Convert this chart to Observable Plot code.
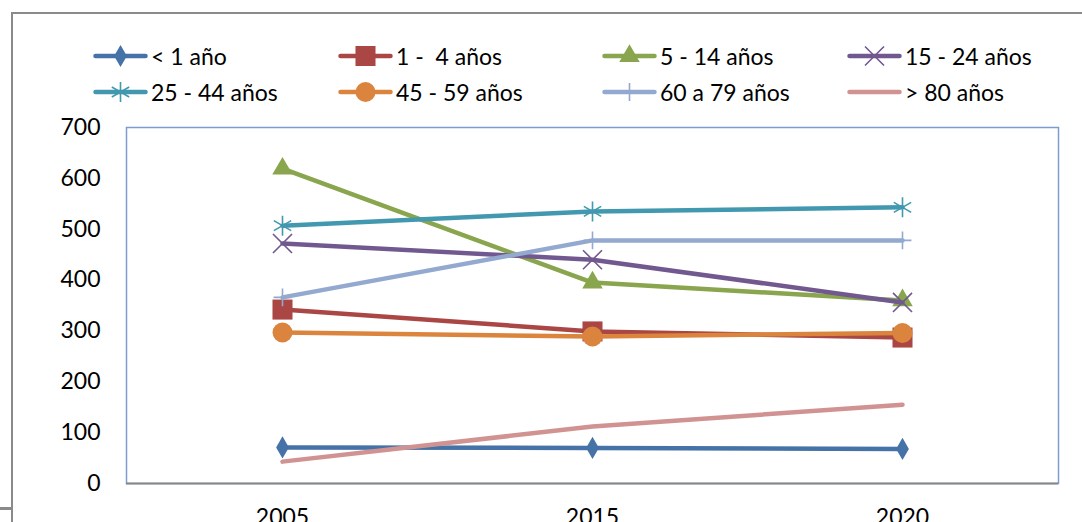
<!DOCTYPE html>
<html>
<head>
<meta charset="utf-8">
<script src="https://cdn.jsdelivr.net/npm/d3@7"></script>
<script src="https://cdn.jsdelivr.net/npm/@observablehq/plot@0.6"></script>
<style>
  html, body { margin: 0; padding: 0; background: #fff; overflow: hidden; }
  #chart { position: relative; width: 1082px; height: 522px; overflow: hidden; font-family: Lato, "Open Sans", sans-serif; }
  #legend { position: relative; height: 110px; }
  .item { position: absolute; height: 30px; display: flex; align-items: center; font-size: 23px; color: #000; white-space: pre; }
  .item svg { display: block; margin-right: 3px; overflow: visible; }
  #outline { position: absolute; left: 11px; top: 12px; right: -10px; bottom: -10px;
             border-left: 2px solid #8a8a8a; border-top: 2px solid #8a8a8a; pointer-events: none; }
  #stub { position: absolute; left: 0; top: 507px; width: 11px; height: 3px; background: #8a8a8a; }
  #plot { position: relative; }
</style>
</head>
<body>
<div id="chart">
  <div id="outline"></div>
  <div id="stub"></div>
  <div id="legend"></div>
  <div id="plot"></div>
</div>
<script>
// Population by age group, three reference years
const years = ["2005", "2015", "2020"];
const groups = ["< 1 año", "1 -  4 años", "5 - 14 años", "15 - 24 años",
                "25 - 44 años", "45 - 59 años", "60 a 79 años", "> 80 años"];

const menor1  = [71, 70, 68];
const de1a4   = [342, 299, 287];
const de5a14  = [619, 395, 360];
const de15a24 = [472, 440, 356];
const de25a44 = [507, 535, 543];
const de45a59 = [297, 289, 296];
const de60a79 = [366, 478, 478];
const mayor80 = [43, 112, 155];

const yTicks = [0, 100, 200, 300, 400, 500, 600, 700];

const series = [menor1, de1a4, de5a14, de15a24, de25a44, de45a59, de60a79, mayor80];

// Series styling: colour, marker symbol, marker radius, filled or stroked marker
const colors  = ["#4572a7", "#aa4643", "#89a54e", "#71588f", "#4198af", "#db843d", "#93a9cf", "#d19392"];
const symbols = ["diamond", "square", "triangle", "times", "asterisk", "circle", "plus", null];
const radii   = [6.7, 11.3, 7.6, 8.7, 9.5, 10, 5.8, 0];
const filled  = [true, true, true, false, false, true, false, false];

const table = groups.flatMap((g, i) =>
  years.map((yr, j) => ({group: g, year: yr, value: series[i][j]})));

// Each series draws its line and then its markers, so later series sit on top
const seriesMarks = groups.flatMap((g, i) => {
  const rows = table.filter(d => d.group === g);
  const marks = [
    Plot.line(rows, {x: "year", y: "value", stroke: colors[i], strokeWidth: 4.5,
                     strokeLinecap: "round", strokeLinejoin: "round"})
  ];
  if (symbols[i]) {
    marks.push(Plot.dot(rows, filled[i]
      ? {x: "year", y: "value", symbol: symbols[i], r: radii[i], fill: colors[i], stroke: "none"}
      : {x: "year", y: "value", symbol: symbols[i], r: radii[i], fill: "none", stroke: colors[i], strokeWidth: 1.6}));
  }
  return marks;
});

const chart = Plot.plot({
  width: 1082,
  height: 412,
  marginTop: 17,
  marginBottom: 39,
  marginLeft: 126,
  marginRight: 24,
  style: {fontFamily: "Lato, 'Open Sans', sans-serif", fontSize: "23px", color: "#000", background: "transparent"},
  x: {type: "point", domain: years, padding: 0.5, axis: null},
  y: {domain: [0, 700], axis: null},
  marks: [
    Plot.frame({stroke: "#7d9dd1", strokeWidth: 1.5}),
    Plot.axisY({ticks: yTicks, tickSize: 0, tickPadding: 26, label: null, fontSize: 23}),
    Plot.axisX({tickSize: 0, tickPadding: 25, label: null, fontSize: 23}),
    Plot.ruleY([0], {stroke: "#878787", strokeWidth: 2}),
    ...seriesMarks
  ]
});
document.getElementById("plot").appendChild(chart);

// Legend: two rows of four entries, each with a line swatch and its marker
const legendCols = [93, 338, 602, 847];
const legendRows = [56, 92];
const legend = d3.select("#legend");
groups.forEach((g, i) => {
  const item = legend.append("div").attr("class", "item")
    .style("left", legendCols[i % 4] + "px")
    .style("top", (legendRows[Math.floor(i / 4)] - 15) + "px");
  const sw = item.append("svg").attr("width", 55).attr("height", 30);
  sw.append("line").attr("x1", 2.5).attr("x2", 52.5).attr("y1", 15).attr("y2", 15)
    .attr("stroke", colors[i]).attr("stroke-width", 4.5).attr("stroke-linecap", "round");
  if (symbols[i]) {
    const sym = {diamond: d3.symbolDiamond, square: d3.symbolSquare, triangle: d3.symbolTriangle,
                 times: d3.symbolTimes, asterisk: d3.symbolAsterisk, circle: d3.symbolCircle,
                 plus: d3.symbolPlus}[symbols[i]];
    const p = sw.append("path").attr("transform", "translate(27.5,15)")
      .attr("d", d3.symbol(sym, radii[i] * radii[i] * Math.PI)());
    if (filled[i]) p.attr("fill", colors[i]);
    else p.attr("fill", "none").attr("stroke", colors[i]).attr("stroke-width", 1.6);
  }
  item.append("span").text(g);
});
</script>
</body>
</html>
